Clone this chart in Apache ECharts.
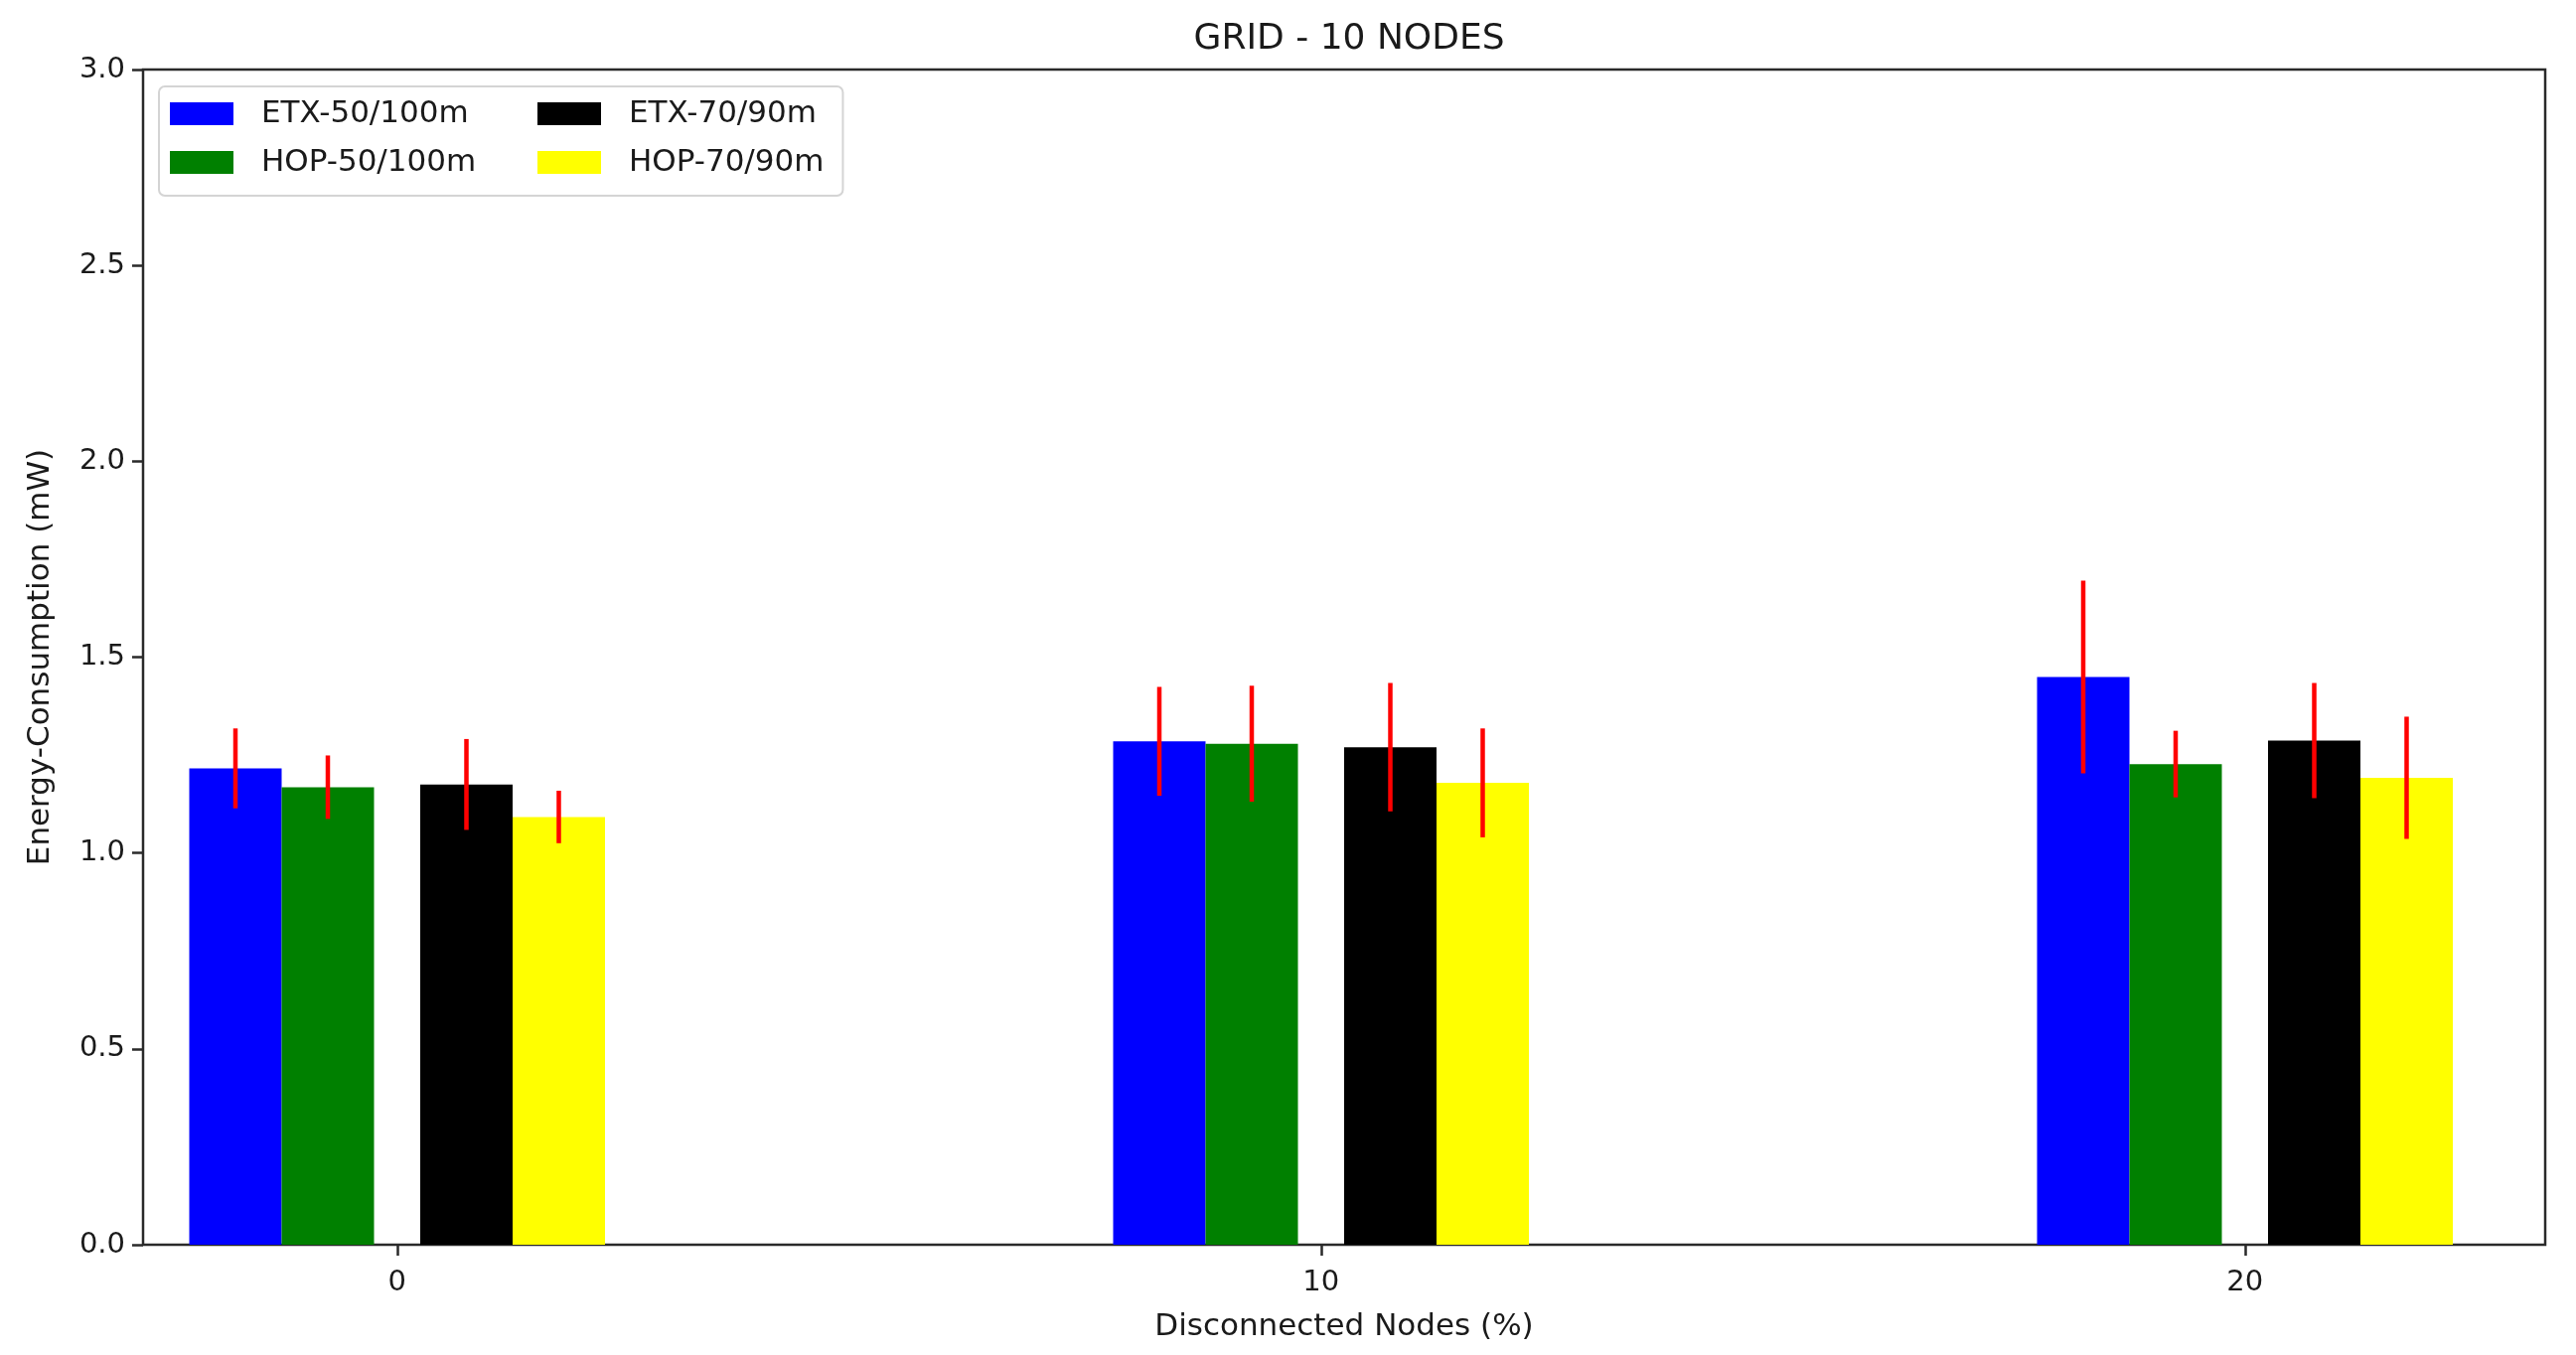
<!DOCTYPE html>
<html>
<head>
<meta charset="utf-8">
<title>GRID - 10 NODES</title>
<script src="https://cdn.jsdelivr.net/npm/echarts@6/dist/echarts.min.js"></script>
<style>
  html, body { margin: 0; padding: 0; background: #fff; }
  #main { width: 2593px; height: 1364px; }
</style>
</head>
<body>
<div id="main"></div>
<script>
// disconnected nodes (%)
const categories = [0, 10, 20];

// mean energy consumption (mW)
const etx50 = [1.216, 1.285, 1.449];
const hop50 = [1.168, 1.279, 1.227];
const etx70 = [1.175, 1.270, 1.287];
const hop70 = [1.092, 1.179, 1.192];

// half length of the error bars
const etx50Err = [0.102, 0.139, 0.246];
const hop50Err = [0.081, 0.148, 0.085];
const etx70Err = [0.116, 0.164, 0.147];
const hop70Err = [0.067, 0.139, 0.156];

const yTicks = [0, 0.5, 1.0, 1.5, 2.0, 2.5, 3.0];

const font = "DejaVu Sans";
const ink = "#1a1a1a";

// bar + red error line, both placed through the axes
function barWithError(params, api) {
  const x = api.value(0);
  const v = api.value(1);
  const e = api.value(2);
  const topLeft = api.coord([x - 0.5, v]);
  const bottomRight = api.coord([x + 0.5, 0]);
  const errTop = api.coord([x, v + e]);
  const errBot = api.coord([x, v - e]);
  return {
    type: "group",
    children: [
      {
        type: "rect",
        shape: {
          x: topLeft[0],
          y: topLeft[1],
          width: bottomRight[0] - topLeft[0],
          height: bottomRight[1] - topLeft[1]
        },
        style: { fill: api.visual("color") }
      },
      {
        type: "line",
        z2: 10,
        shape: { x1: errTop[0], y1: errTop[1], x2: errBot[0], y2: errBot[1] },
        style: { stroke: "#ff0000", lineWidth: 4.5 }
      }
    ]
  };
}

function makeSeries(name, color, values, errs, offset) {
  return {
    name: name,
    type: "custom",
    renderItem: barWithError,
    itemStyle: { color: color },
    encode: { x: 0, y: 1 },
    data: categories.map((c, i) => [c + offset, values[i], errs[i]])
  };
}

const myChart = echarts.init(document.getElementById("main"));

const option = {
  backgroundColor: "#ffffff",
  animation: false,
  title: {
    text: "GRID - 10 NODES",
    left: 1353,
    top: 17,
    textAlign: "center",
    textStyle: { fontFamily: font, fontSize: 36, fontWeight: "normal", color: ink }
  },
  legend: {
    orient: "vertical",
    left: 160,
    top: 87,
    height: 90,
    itemGap: 18,
    itemWidth: 64,
    itemHeight: 23,
    icon: "rect",
    padding: [12, 19, 18, 11],
    backgroundColor: "rgba(255,255,255,0.8)",
    borderColor: "#d4d4d4",
    borderWidth: 2,
    borderRadius: 6,
    textStyle: {
      fontFamily: font,
      fontSize: 31,
      color: ink,
      lineHeight: 30,
      padding: [0, 0, 0, 23]
    },
    data: [
      { name: "ETX-50/100m", textStyle: { width: 260 } },
      { name: "HOP-50/100m", textStyle: { width: 260 } },
      { name: "ETX-70/90m" },
      { name: "HOP-70/90m" }
    ]
  },
  grid: {
    left: 144,
    right: 31,
    top: 70,
    bottom: 111,
    show: true,
    borderColor: "#2a2a2a",
    borderWidth: 2.5,
    containLabel: false
  },
  xAxis: {
    type: "value",
    min: -2.75,
    max: 23.25,
    name: "Disconnected Nodes (%)",
    nameLocation: "middle",
    nameGap: 67,
    nameTextStyle: { fontFamily: font, fontSize: 31, color: ink },
    axisLine: { show: false, onZero: false },
    splitLine: { show: false },
    axisTick: {
      show: true,
      length: 11,
      customValues: categories,
      lineStyle: { color: "#2a2a2a", width: 2.5 }
    },
    axisLabel: {
      customValues: categories,
      margin: 24,
      fontFamily: font,
      fontSize: 29,
      color: ink
    }
  },
  yAxis: {
    type: "value",
    min: 0,
    max: 3,
    interval: 0.5,
    name: "Energy-Consumption (mW)",
    nameLocation: "middle",
    nameRotate: 90,
    nameGap: 88,
    nameTextStyle: { fontFamily: font, fontSize: 31, color: ink },
    axisLine: { show: false, onZero: false },
    splitLine: { show: false },
    axisTick: {
      show: true,
      length: 11,
      customValues: yTicks,
      lineStyle: { color: "#2a2a2a", width: 2.5 }
    },
    axisLabel: {
      customValues: yTicks,
      margin: 18,
      fontFamily: font,
      fontSize: 29,
      color: ink,
      formatter: (v) => v.toFixed(1)
    }
  },
  series: [
    makeSeries("ETX-50/100m", "#0000ff", etx50, etx50Err, -1.75),
    makeSeries("HOP-50/100m", "#008000", hop50, hop50Err, -0.75),
    makeSeries("ETX-70/90m", "#000000", etx70, etx70Err, 0.75),
    makeSeries("HOP-70/90m", "#ffff00", hop70, hop70Err, 1.75)
  ]
};

myChart.setOption(option);
</script>
</body>
</html>
